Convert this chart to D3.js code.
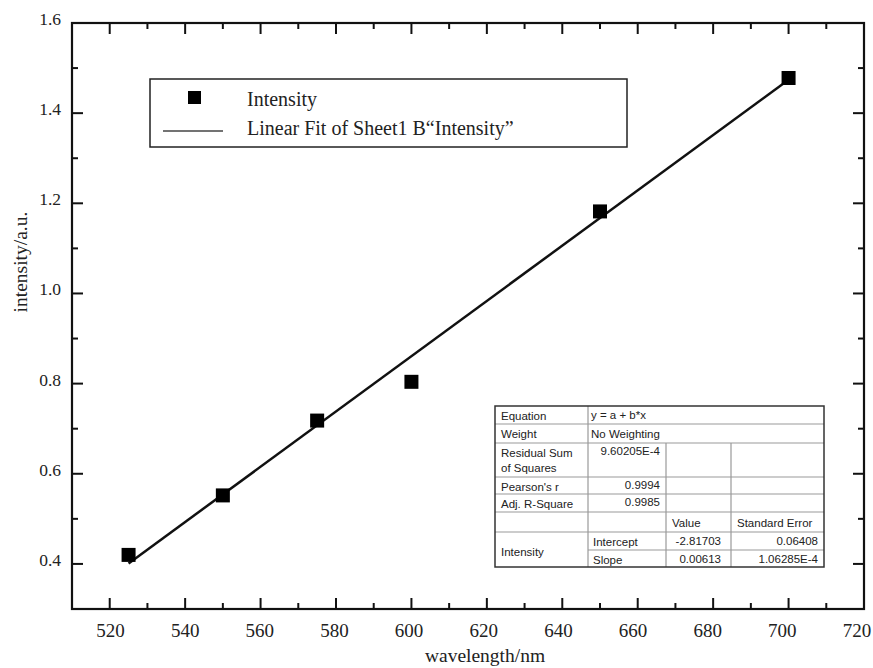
<!DOCTYPE html>
<html>
<head>
<meta charset="utf-8">
<script src="https://cdn.jsdelivr.net/npm/d3@7/dist/d3.min.js"></script>
<style>
  body { margin: 0; background: #fff; overflow: hidden; }
  svg { display: block; }
  .serif { font-family: "Liberation Serif", "DejaVu Serif", serif; fill: #222; }
  .tbl { font-family: "Liberation Sans", Arial, sans-serif; font-size: 11.5px; fill: #222; }
</style>
</head>
<body>
<div id="chart"></div>
<script>
// measured points
var wavelength = [525, 550, 575, 600, 650, 700];
var intensity = [0.420, 0.552, 0.718, 0.804, 1.182, 1.478];

// linear fit endpoints (y = a + b*x)
var fitX = [525, 700];
var fitY = [0.401, 1.474];

var xTicks = [520, 540, 560, 580, 600, 620, 640, 660, 680, 700, 720];
var yTicks = [0.4, 0.6, 0.8, 1.0, 1.2, 1.4, 1.6];

var legendLabels = ["Intensity", "Linear Fit of Sheet1 B\u201cIntensity\u201d"];

// fit result table
var statNames = ["Equation", "Weight", "Residual Sum|of Squares", "Pearson's r", "Adj. R-Square"];
var statValues = ["y = a + b*x", "No Weighting", "9.60205E-4", "0.9994", "0.9985"];
var paramHeader = ["Value", "Standard Error"];
var paramNames = ["Intercept", "Slope"];
var paramValues = ["-2.81703", "0.00613"];
var paramErrors = ["0.06408", "1.06285E-4"];

var W = 873, H = 668;
var pL = 72, pR = 864, pT = 23, pB = 609;

var svg = d3.select("#chart").append("svg").attr("width", W).attr("height", H);

var x = d3.scaleLinear().domain([510, 720]).range([pL, pR]);
var y = d3.scaleLinear().domain([0.3, 1.6]).range([pB, pT]);
// labels drift a little left of their ticks in the original
var xLab = d3.scaleLinear().domain([520, 720]).range([110.5, 857]);

var minorX = d3.range(510, 721, 10).filter(function (d) { return xTicks.indexOf(d) < 0; });
var minorY = d3.range(3, 17, 1).map(function (d) { return d / 10; })
    .filter(function (d) { return yTicks.every(function (t) { return Math.abs(t - d) > 1e-6; }); });

// ticks on all four sides, pointing inward
var tg = svg.append("g").attr("stroke", "#111").attr("stroke-width", 2);
xTicks.concat(minorX).forEach(function (v) {
    var len = xTicks.indexOf(v) >= 0 ? 11 : 6;
    tg.append("line").attr("x1", x(v)).attr("x2", x(v)).attr("y1", pB).attr("y2", pB - len);
    tg.append("line").attr("x1", x(v)).attr("x2", x(v)).attr("y1", pT).attr("y2", pT + len);
});
yTicks.concat(minorY).forEach(function (v) {
    var len = yTicks.indexOf(v) >= 0 ? 11 : 6;
    tg.append("line").attr("x1", pL).attr("x2", pL + len).attr("y1", y(v)).attr("y2", y(v));
    tg.append("line").attr("x1", pR).attr("x2", pR - len).attr("y1", y(v)).attr("y2", y(v));
});

svg.append("rect").attr("x", pL).attr("y", pT)
    .attr("width", pR - pL).attr("height", pB - pT)
    .attr("fill", "none").attr("stroke", "#111").attr("stroke-width", 2.2);

// tick labels
svg.append("g").selectAll("text").data(xTicks).join("text")
    .attr("class", "serif").attr("x", function (d) { return xLab(d); }).attr("y", 637)
    .attr("text-anchor", "middle").attr("font-size", 19).text(function (d) { return d; });
svg.append("g").selectAll("text").data(yTicks).join("text")
    .attr("class", "serif").attr("x", 61).attr("y", function (d) { return y(d) + 2; })
    .attr("text-anchor", "end").attr("font-size", 17.5).text(function (d) { return d.toFixed(1); });

svg.append("text").attr("class", "serif").attr("x", 485).attr("y", 662)
    .attr("text-anchor", "middle").attr("font-size", 19.5).text("wavelength/nm");
svg.append("text").attr("class", "serif")
    .attr("transform", "translate(27,262) rotate(-90)")
    .attr("text-anchor", "middle").attr("font-size", 19.5).text("intensity/a.u.");

// fit line
svg.append("path")
    .datum(d3.zip(fitX, fitY))
    .attr("d", d3.line().x(function (d) { return x(d[0]); }).y(function (d) { return y(d[1]); }))
    .attr("stroke", "#111").attr("stroke-width", 2.5).attr("fill", "none");

// points
var sq = 14;
svg.append("g").selectAll("rect").data(d3.zip(wavelength, intensity)).join("rect")
    .attr("x", function (d) { return x(d[0]) - sq / 2; })
    .attr("y", function (d) { return y(d[1]) - sq / 2; })
    .attr("width", sq).attr("height", sq).attr("fill", "#000");

// legend
var lg = svg.append("g");
lg.append("rect").attr("x", 150).attr("y", 79).attr("width", 477).attr("height", 68)
    .attr("fill", "#fff").attr("stroke", "#222").attr("stroke-width", 1.5);
lg.append("rect").attr("x", 188).attr("y", 91).attr("width", 13).attr("height", 13).attr("fill", "#000");
lg.append("line").attr("x1", 163).attr("x2", 223).attr("y1", 131).attr("y2", 131)
    .attr("stroke", "#444").attr("stroke-width", 1.5);
lg.selectAll("text").data(legendLabels).join("text")
    .attr("class", "serif").attr("x", 247).attr("y", function (d, i) { return 106 + i * 29; })
    .attr("font-size", 20).text(function (d) { return d; });

// results table
var tb = svg.append("g");
var tx0 = 495, tx1 = 588, tx2 = 666, tx3 = 731, tx4 = 824;
var rowY = [406, 424, 443, 477, 494, 512, 532, 550, 567];
var grey = "#999";
function hline(xa, xb, yy) {
    tb.append("line").attr("x1", xa).attr("x2", xb).attr("y1", yy).attr("y2", yy)
        .attr("stroke", grey).attr("stroke-width", 1.2);
}
function vline(xx, ya, yb) {
    tb.append("line").attr("x1", xx).attr("x2", xx).attr("y1", ya).attr("y2", yb)
        .attr("stroke", grey).attr("stroke-width", 1.2);
}
tb.append("rect").attr("x", tx0).attr("y", rowY[0]).attr("width", tx4 - tx0)
    .attr("height", rowY[8] - rowY[0]).attr("fill", "#fff");
for (var i = 1; i < 7; i++) { hline(tx0, tx4, rowY[i]); }
hline(tx1, tx4, rowY[7]);
vline(tx1, rowY[0], rowY[8]);
vline(tx2, rowY[2], rowY[8]);
vline(tx3, rowY[2], rowY[8]);
tb.append("rect").attr("x", tx0).attr("y", rowY[0]).attr("width", tx4 - tx0)
    .attr("height", rowY[8] - rowY[0]).attr("fill", "none").attr("stroke", "#333").attr("stroke-width", 1.5);

function cell(txt, xx, yy, anchor) {
    tb.append("text").attr("class", "tbl").attr("x", xx).attr("y", yy)
        .attr("text-anchor", anchor || "start").text(txt);
}
statNames.forEach(function (s, i) {
    var parts = s.split("|");
    parts.forEach(function (p, k) { cell(p, tx0 + 6, rowY[i] + 14 + k * 15); });
});
cell(statValues[0], tx1 + 3, rowY[0] + 13);
cell(statValues[1], tx1 + 3, rowY[1] + 14);
for (var j = 2; j < 5; j++) { cell(statValues[j], tx2 - 6, rowY[j] + 12, "end"); }
cell(paramHeader[0], tx2 + 6, rowY[5] + 15);
cell(paramHeader[1], tx3 + 6, rowY[5] + 15);
cell("Intensity", tx0 + 6, 556);
paramNames.forEach(function (p, i) {
    cell(p, tx1 + 5, rowY[6 + i] + 14);
    cell(paramValues[i], tx3 - 10, rowY[6 + i] + 13, "end");
    cell(paramErrors[i], tx4 - 6, rowY[6 + i] + 13, "end");
});
</script>
</body>
</html>
